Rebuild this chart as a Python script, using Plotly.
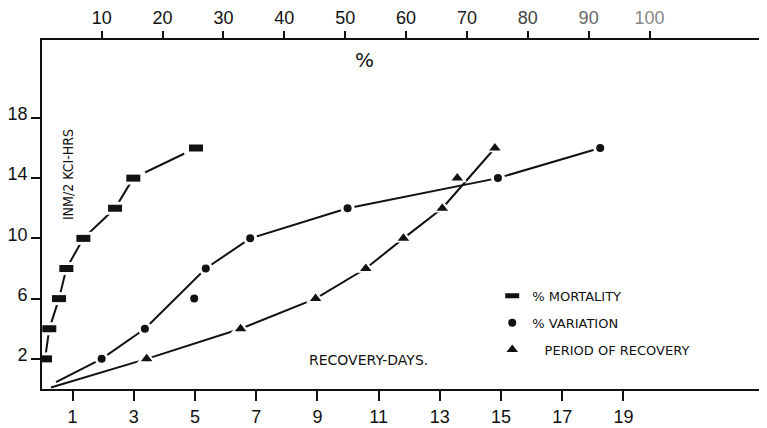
import plotly.graph_objects as go

# ---------------- data ----------------
hours = [2, 4, 6, 8, 10, 12, 14, 16]                      # IN M/2 KCl - HRS (y)

mortality_pct = [0.7, 1.4, 3.0, 4.2, 7.0, 12.2, 15.2, 25.5]   # % mortality (top axis)
variation_pct = [10.0, 17.1, 25.2, 27.1, 34.4, 50.4, 75.1, 91.9]  # % variation (top axis)
recovery_days = [3.42, 6.49, 8.94, 10.58, 11.81, 13.08, 13.57, 14.80]  # period of recovery (bottom axis)

# start of the hand drawn lines near the origin
variation_start = (2.5, 0.45)     # (% , hrs)
recovery_start = (0.29, 0.1)      # (days, hrs)
# points that are plotted but not joined by the line
variation_off_line = [2]
recovery_off_line = [6]

day_ticks = [1, 3, 5, 7, 9, 11, 13, 15, 17, 19]
pct_ticks = [10, 20, 30, 40, 50, 60, 70, 80, 90, 100]
pct_tick_colors = ["#111", "#111", "#111", "#111", "#111", "#111", "#222", "#444", "#666", "#888"]
hour_ticks = [2, 6, 10, 14, 18]

# ---------------- figure ----------------
fig = go.Figure()
INK = "#111111"
LW = 2

def path(xs, ys, skip, start):
    px = [start[0]] if start else []
    py = [start[1]] if start else []
    for i, (a, b) in enumerate(zip(xs, ys)):
        if i not in skip:
            px.append(a)
            py.append(b)
    return px, py

# lines
mx, my = path(mortality_pct, hours, [], None)
fig.add_trace(go.Scatter(x=mx, y=my, xaxis="x2", mode="lines",
                         line=dict(color=INK, width=LW), showlegend=False, hoverinfo="skip"))
vx, vy = path(variation_pct, hours, variation_off_line, variation_start)
fig.add_trace(go.Scatter(x=vx, y=vy, xaxis="x2", mode="lines",
                         line=dict(color=INK, width=LW), showlegend=False, hoverinfo="skip"))
rx, ry = path(recovery_days, hours, recovery_off_line, recovery_start)
fig.add_trace(go.Scatter(x=rx, y=ry, xaxis="x", mode="lines",
                         line=dict(color=INK, width=LW), showlegend=False, hoverinfo="skip"))

# white halos (gaps in the lines around the marks)
fig.add_trace(go.Scatter(x=mortality_pct, y=hours, xaxis="x2", mode="markers", showlegend=False,
                         hoverinfo="skip",
                         marker=dict(symbol="line-ew", size=17, line=dict(color="white", width=13))))
fig.add_trace(go.Scatter(x=variation_pct, y=hours, xaxis="x2", mode="markers", showlegend=False,
                         hoverinfo="skip",
                         marker=dict(symbol="circle", size=14, color="white", line=dict(width=0))))
fig.add_trace(go.Scatter(x=recovery_days, y=hours, xaxis="x", mode="markers", showlegend=False,
                         hoverinfo="skip",
                         marker=dict(symbol="triangle-up", size=17, color="white", line=dict(width=0))))

# marks
fig.add_trace(go.Scatter(x=mortality_pct, y=hours, xaxis="x2", mode="markers",
                         name="% MORTALITY", legendgroup="m",
                         marker=dict(symbol="line-ew", size=10, line=dict(color=INK, width=7))))
fig.add_trace(go.Scatter(x=variation_pct, y=hours, xaxis="x2", mode="markers",
                         name="% VARIATION", legendgroup="v",
                         marker=dict(symbol="circle", size=8, color=INK, line=dict(width=0))))
fig.add_trace(go.Scatter(x=recovery_days, y=hours, xaxis="x", mode="markers",
                         name="\u00a0\u00a0\u00a0PERIOD OF RECOVERY", legendgroup="r",
                         marker=dict(symbol="triangle-up", size=10, color=INK, line=dict(width=0))))

TICKFONT = dict(family="Liberation Sans, Arial, sans-serif", size=18, color=INK)
LETTER = "DejaVu Sans, sans-serif"
LETTER_C = "DejaVu Sans Condensed, DejaVu Sans, sans-serif"

axis_common = dict(showgrid=False, zeroline=False, showline=True, linecolor=INK, linewidth=LW,
                   ticks="outside", tickwidth=2, tickcolor=INK, tickfont=TICKFONT, fixedrange=True)

# the page body has an 8px margin; the figure is sized so the plot area
# spans x 42..767 and y 40..389 of the window
fig.update_layout(
    width=759, height=420,
    margin=dict(l=34, r=0, t=32, b=39),
    paper_bgcolor="white", plot_bgcolor="white",
    xaxis=dict(range=[0, 23.69], tickvals=day_ticks, ticktext=[str(t) for t in day_ticks],
               ticklen=10, **axis_common),
    xaxis2=dict(range=[0.2, 119.3], overlaying="x", side="top", tickvals=pct_ticks,
                ticktext=[f'<span style="color:{c}">{t}</span>' for t, c in zip(pct_ticks, pct_tick_colors)],
                ticklen=7, **axis_common),
    yaxis=dict(range=[0, 23.17], tickvals=hour_ticks, ticktext=[str(t) for t in hour_ticks],
               ticklen=9, ticklabelshift=-4, **axis_common),
    showlegend=True,
    legend=dict(x=0.621, y=0.31, xanchor="left", yanchor="top", bgcolor="rgba(0,0,0,0)",
                borderwidth=0, font=dict(family=LETTER, size=13, color=INK),
                tracegroupgap=7, itemclick=False, itemdoubleclick=False),
    annotations=[
        dict(text="%", xref="paper", yref="paper", x=0.4455, y=0.9427, showarrow=False,
             xanchor="center", yanchor="middle",
             font=dict(family="DejaVu Sans, sans-serif", size=20, color=INK)),
        dict(text="INM/2 KCI-HRS", xref="paper", yref="paper", x=0.0359, y=0.613,
             xanchor="center", yanchor="middle",
             textangle=-90, showarrow=False,
             font=dict(family=LETTER_C, size=14, color=INK)),
        dict(text="RECOVERY-DAYS.", xref="paper", yref="paper", x=0.451, y=0.083,
             xanchor="center", yanchor="middle",
             showarrow=False, font=dict(family=LETTER, size=14, color=INK)),
    ],
)

fig.write_html("out.html")
